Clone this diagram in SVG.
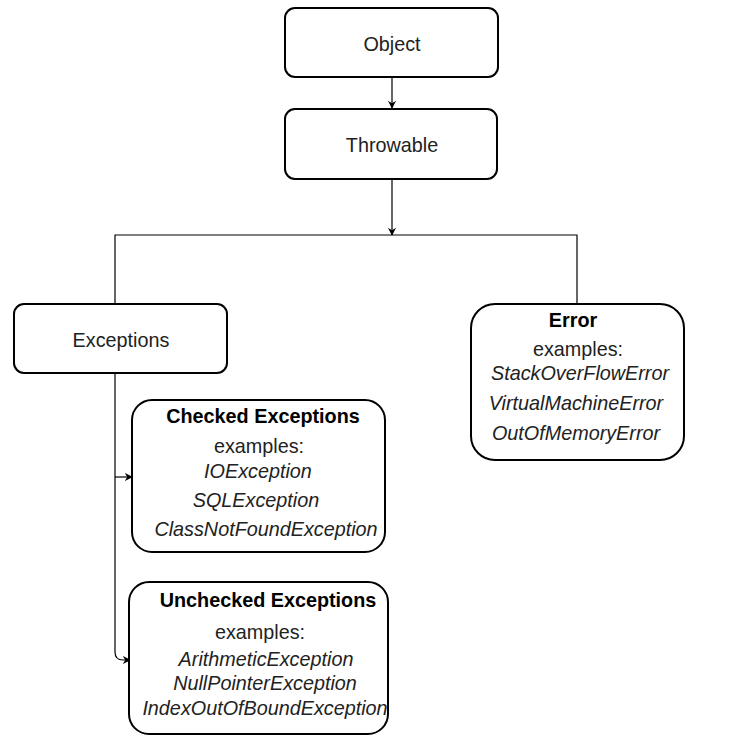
<svg xmlns="http://www.w3.org/2000/svg" width="749" height="743" viewBox="0 0 749 743">
<style>
.box{fill:#fff;stroke:#000;stroke-width:2}
.t{font-family:"Liberation Sans",Arial,sans-serif;font-size:19.8px;fill:#222;text-anchor:middle}
.b{font-weight:bold;fill:#000}
.i{font-style:italic}
.c{fill:none;stroke:#000;stroke-width:1.2}
</style>
<defs>
<marker id="ah" viewBox="0 0 10 10" refX="9" refY="5" markerWidth="8" markerHeight="8" markerUnits="userSpaceOnUse" orient="auto">
<path d="M0,0 L10,5 L0,10 L3,5 z" fill="#000"/>
</marker>
</defs>
<rect width="749" height="743" fill="#fff"/>
<g id="connectors">
<line class="c" x1="392" y1="78" x2="392" y2="108" marker-end="url(#ah)"/>
<line class="c" x1="392" y1="180" x2="392" y2="235" marker-end="url(#ah)"/>
<polyline class="c" points="115,304 115,235 577,235 577,304"/>
<path class="c" d="M115,374 L115,652 Q115,660 123,660 L130,660" marker-end="url(#ah)"/>
<line class="c" x1="115" y1="477" x2="132" y2="477" marker-end="url(#ah)"/>
</g>
<g id="object">
<rect class="box" x="285" y="8" width="213" height="69" rx="10"/>
<text class="t" x="392" y="51">Object</text>
</g>
<g id="throwable">
<rect class="box" x="285" y="109" width="212" height="70" rx="10"/>
<text class="t" x="392" y="152">Throwable</text>
</g>
<g id="exceptions">
<rect class="box" x="14" y="304" width="213" height="69" rx="10"/>
<text class="t" x="121" y="347">Exceptions</text>
</g>
<g id="error">
<rect class="box" x="471" y="304" width="213" height="156" rx="24"/>
<text class="t b" x="573" y="327">Error</text>
<text class="t" x="578" y="356">examples:</text>
<text class="t i" x="580" y="380">StackOverFlowError</text>
<text class="t i" x="576" y="410">VirtualMachineError</text>
<text class="t i" x="576" y="440">OutOfMemoryError</text>
</g>
<g id="checked">
<rect class="box" x="132" y="400" width="253" height="152" rx="20"/>
<text class="t b" x="263" y="423">Checked Exceptions</text>
<text class="t" x="259" y="453">examples:</text>
<text class="t i" x="258" y="478">IOException</text>
<text class="t i" x="256" y="507">SQLException</text>
<text class="t i" x="266" y="536">ClassNotFoundException</text>
</g>
<g id="unchecked">
<rect class="box" x="129" y="582" width="259" height="152" rx="20"/>
<text class="t b" x="268" y="607">Unchecked Exceptions</text>
<text class="t" x="260" y="639">examples:</text>
<text class="t i" x="266" y="666">ArithmeticException</text>
<text class="t i" x="265" y="690">NullPointerException</text>
<text class="t i" x="265" y="715">IndexOutOfBoundException</text>
</g>
</svg>
